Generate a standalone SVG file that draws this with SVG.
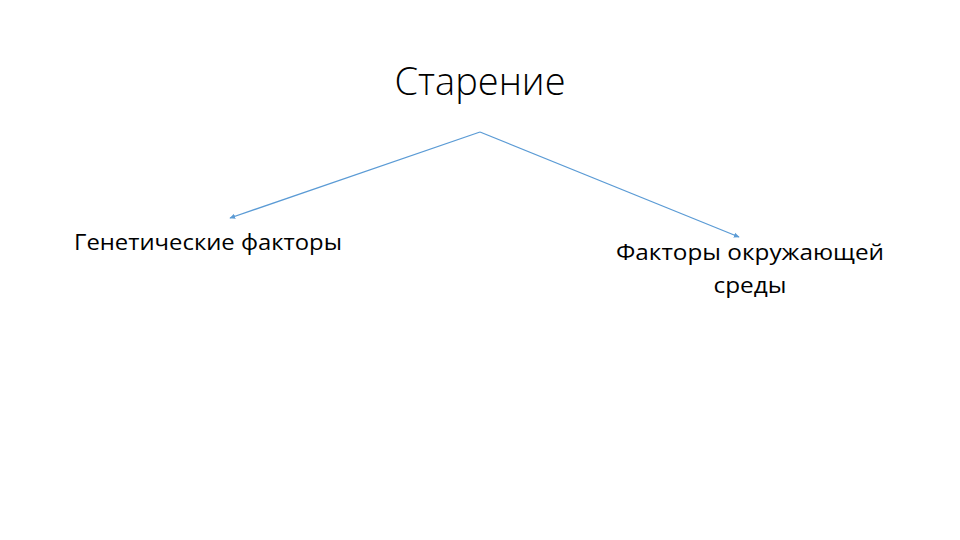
<svg xmlns="http://www.w3.org/2000/svg" width="960" height="540" viewBox="0 0 960 540">
<defs>
<style>
.t{font-family:"Open Sans","Liberation Sans",sans-serif;fill:#000}
.c{stroke:#5B9BD5;stroke-width:1.3;fill:none}
</style>
<marker id="ah" viewBox="0 0 10 10" refX="8" refY="5" markerWidth="5" markerHeight="5" orient="auto"><path d="M0,1 L9,5 L0,9 z" fill="#5B9BD5"/></marker>
</defs>
<rect width="960" height="540" fill="#fff"/>
<g id="root"><text class="t" x="480" y="95" font-size="39" font-weight="300" text-anchor="middle" textLength="171" lengthAdjust="spacingAndGlyphs">Старение</text></g>
<g id="genetic"><text class="t" x="208" y="250" font-size="22" text-anchor="middle" textLength="268" lengthAdjust="spacingAndGlyphs">Генетические факторы</text></g>
<g id="environment"><text class="t" x="750" y="260" font-size="22" text-anchor="middle" textLength="268" lengthAdjust="spacingAndGlyphs">Факторы окружающей</text><text class="t" x="750" y="293" font-size="22" text-anchor="middle" textLength="73" lengthAdjust="spacingAndGlyphs">среды</text></g>
<g id="connectors">
<line class="c" x1="480" y1="132" x2="230" y2="218" marker-end="url(#ah)"/>
<line class="c" x1="480" y1="132" x2="739" y2="237" marker-end="url(#ah)"/>
</g>
</svg>
